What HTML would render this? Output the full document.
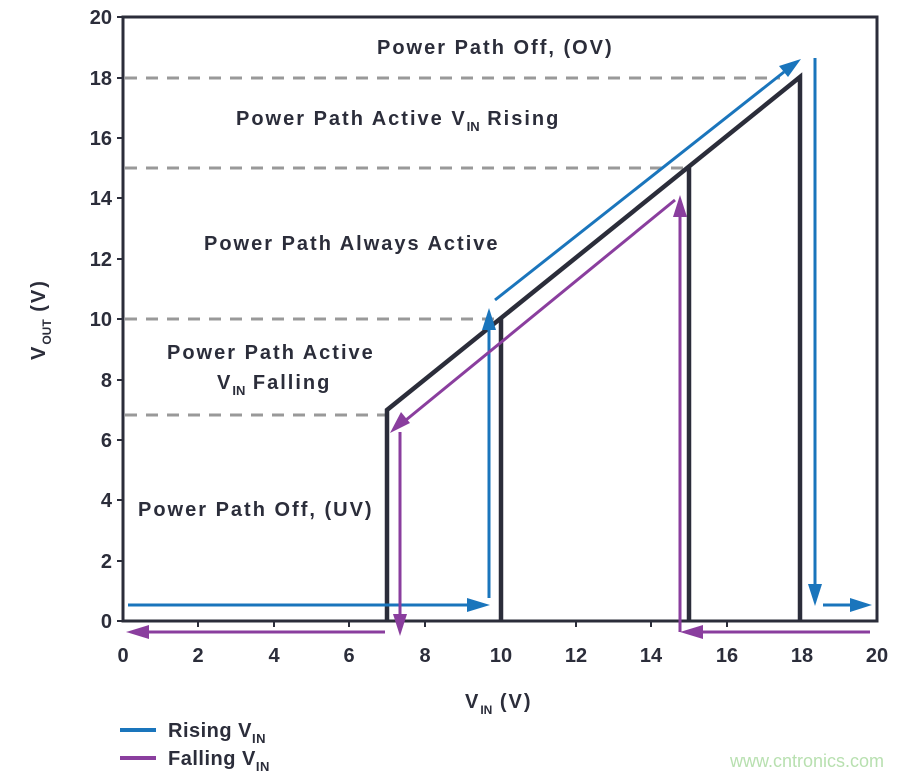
<!DOCTYPE html>
<html><head><style>body{margin:0;background:#fff}svg{display:block}</style></head><body>
<svg width="912" height="776" viewBox="0 0 912 776" font-family="Liberation Sans, sans-serif" font-weight="bold">
<g stroke="#999" stroke-width="3" stroke-dasharray="12,9">
<line x1="125" y1="78" x2="780" y2="78"/>
<line x1="125" y1="168" x2="688" y2="168"/>
<line x1="125" y1="319" x2="500" y2="319"/>
<line x1="125" y1="415" x2="386" y2="415"/>
</g>
<g stroke="#2b2d3a" stroke-width="3" fill="none">
<rect x="123" y="17" width="754" height="604"/>
</g>
<g stroke="#2b2d3a" stroke-width="2">
<line x1="117" y1="17" x2="123" y2="17"/><line x1="117" y1="78" x2="123" y2="78"/><line x1="117" y1="138" x2="123" y2="138"/><line x1="117" y1="198" x2="123" y2="198"/><line x1="117" y1="259" x2="123" y2="259"/><line x1="117" y1="319" x2="123" y2="319"/><line x1="117" y1="380" x2="123" y2="380"/><line x1="117" y1="440" x2="123" y2="440"/><line x1="117" y1="500" x2="123" y2="500"/><line x1="117" y1="561" x2="123" y2="561"/><line x1="117" y1="621" x2="123" y2="621"/>
<line x1="198" y1="621" x2="198" y2="627"/><line x1="274" y1="621" x2="274" y2="627"/><line x1="349" y1="621" x2="349" y2="627"/><line x1="425" y1="621" x2="425" y2="627"/><line x1="576" y1="621" x2="576" y2="627"/><line x1="651" y1="621" x2="651" y2="627"/><line x1="727" y1="621" x2="727" y2="627"/>
</g>
<g stroke="#2b2d3a" stroke-width="4.5" fill="none" stroke-linejoin="miter">
<polyline points="387,621 387,410 800,77 800,621"/>
<line x1="501" y1="621" x2="501" y2="317"/>
<line x1="689" y1="621" x2="689" y2="166"/>
</g>
<g stroke="#1a75bc" stroke-width="3" fill="#1a75bc">
<line x1="128" y1="605" x2="470" y2="605"/><polygon points="490,605 467,598 467,612" stroke="none"/>
<line x1="489" y1="598" x2="489" y2="328"/><polygon points="489,308 482,330 496,330" stroke="none"/>
<line x1="495" y1="300" x2="784" y2="72"/><polygon points="801,59 779,66 788,77" stroke="none"/>
<line x1="815" y1="58" x2="815" y2="585"/><polygon points="815,606 808,584 822,584" stroke="none"/>
<line x1="823" y1="605" x2="852" y2="605"/><polygon points="872,605 850,598 850,612" stroke="none"/>
</g>
<g stroke="#8a3e9e" stroke-width="3" fill="#8a3e9e">
<line x1="870" y1="632" x2="700" y2="632"/><polygon points="680,632 703,625 703,639" stroke="none"/>
<line x1="680" y1="632" x2="680" y2="215"/><polygon points="680,195 673,217 687,217" stroke="none"/>
<line x1="675" y1="200" x2="406" y2="420"/><polygon points="390,433 401,412 410,423" stroke="none"/>
<line x1="400" y1="432" x2="400" y2="615"/><polygon points="400,636 393,614 407,614" stroke="none"/>
<line x1="385" y1="632" x2="148" y2="632"/><polygon points="126,632 149,625 149,639" stroke="none"/>
</g>
<g fill="#2b2d3a" font-size="20" text-anchor="end">
<text x="112" y="24">20</text><text x="112" y="85">18</text><text x="112" y="145">16</text><text x="112" y="205">14</text><text x="112" y="266">12</text><text x="112" y="326">10</text><text x="112" y="387">8</text><text x="112" y="447">6</text><text x="112" y="507">4</text><text x="112" y="568">2</text><text x="112" y="628">0</text>
</g>
<g fill="#2b2d3a" font-size="20" text-anchor="middle">
<text x="123" y="662">0</text><text x="198" y="662">2</text><text x="274" y="662">4</text><text x="349" y="662">6</text><text x="425" y="662">8</text><text x="501" y="662">10</text><text x="576" y="662">12</text><text x="651" y="662">14</text><text x="727" y="662">16</text><text x="802" y="662">18</text><text x="877" y="662">20</text>
</g>
<g fill="#2b2d3a" font-size="20" letter-spacing="2">
<text x="465" y="708">V<tspan font-size="12" dy="6" letter-spacing="0">IN</tspan><tspan dy="-6"> (V)</tspan></text>
<text transform="translate(45,360) rotate(-90)">V<tspan font-size="12" dy="6" letter-spacing="0">OUT</tspan><tspan dy="-6"> (V)</tspan></text>
<text x="377" y="54">Power Path Off, (OV)</text>
<text x="236" y="125">Power Path Active V<tspan font-size="13" dy="6" letter-spacing="0">IN</tspan><tspan dy="-6"> Rising</tspan></text>
<text x="204" y="250">Power Path Always Active</text>
<text x="167" y="359">Power Path Active</text>
<text x="217" y="389">V<tspan font-size="13" dy="6" letter-spacing="0">IN</tspan><tspan dy="-6"> Falling</tspan></text>
<text x="138" y="516">Power Path Off, (UV)</text>
</g>
<g fill="#2b2d3a" font-size="20" letter-spacing="0.5">
<text x="168" y="737">Rising V<tspan font-size="13" dy="6">IN</tspan></text>
<text x="168" y="765">Falling V<tspan font-size="13" dy="6">IN</tspan></text>
</g>
<line x1="120" y1="730" x2="156" y2="730" stroke="#1a75bc" stroke-width="4"/>
<line x1="120" y1="758" x2="156" y2="758" stroke="#8a3e9e" stroke-width="4"/>
<text x="730" y="767" font-size="18" font-weight="normal" fill="#b8e0b0">www.cntronics.com</text>
</svg>
</body></html>
